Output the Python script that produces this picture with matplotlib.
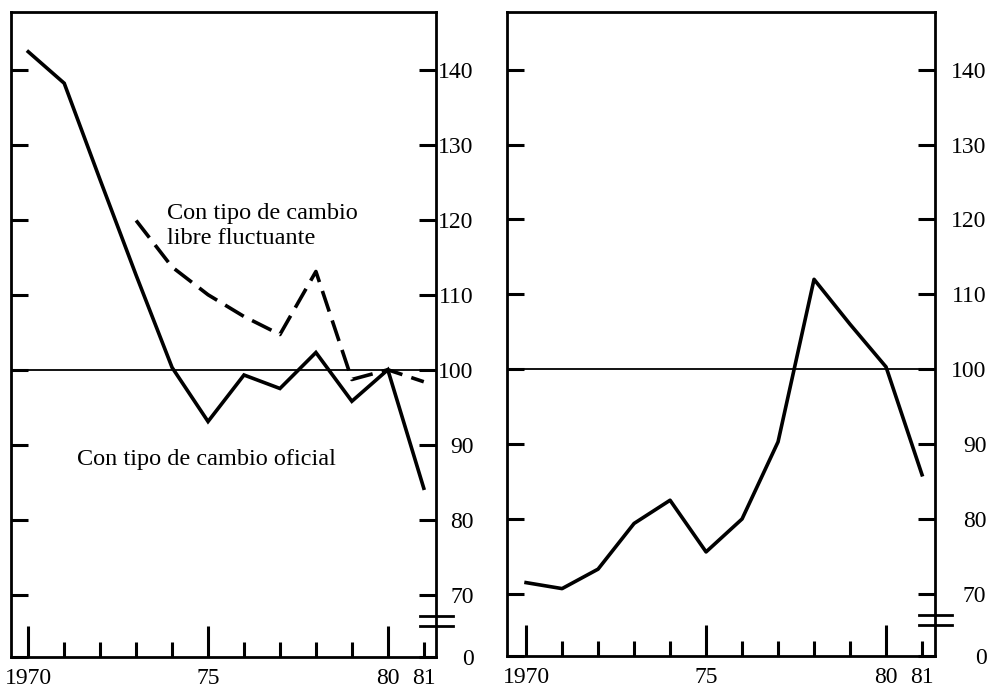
import numpy as np
import matplotlib.pyplot as plt

# datos
anios = list(range(1970, 1982))
oficial = [142.4, 138.2, 125.3, 112.6, 100.3, 93.1, 99.3, 97.5, 102.3, 95.8, 100.0, 84.2]
anios_libre = list(range(1973, 1982))
libre = [119.9, 113.7, 110.0, 107.1, 104.7, 113.1, 98.7, 100.0, 98.4]
derecha = [71.5, 70.7, 73.3, 79.4, 82.5, 75.6, 80.0, 90.3, 112.0, 106.0, 100.3, 85.9]

ytick_vals = [70, 80, 90, 100, 110, 120, 130, 140]
y_base = 61.7  # se rotula "0" (eje cortado)
anios_mayores = [1970, 1975, 1980]
etiquetas_mayores = ["1970", "75", "80"]

plt.rcParams['font.family'] = ['Liberation Serif', 'DejaVu Serif']

fig = plt.figure(figsize=(9.92, 6.91), dpi=100)
ax1 = fig.add_axes([11 / 992, 34 / 691, 425 / 992, 645 / 691])
ax2 = fig.add_axes([507 / 992, 35 / 691, 428 / 992, 644 / 691])


def preparar_eje(ax, pad_derecha):
    ax.set_ylim(y_base, 147.7)
    ax.set_xlim(1969.52, 1981.34)
    for s in ax.spines.values():
        s.set_linewidth(2.0)
    ax.axhline(100, color='black', lw=1.3, zorder=1)

    ax.set_yticks([y_base] + ytick_vals, labels=["0"] + [str(v) for v in ytick_vals])
    ax.tick_params(axis='y', which='major', direction='in', left=True, right=True,
                   labelleft=False, labelright=True, length=12, width=2.2,
                   labelsize=17, pad=pad_derecha)
    for lab in ax.get_yticklabels():
        lab.set_horizontalalignment('right')

    ax.set_xticks(anios_mayores, labels=etiquetas_mayores)
    menores = [a for a in anios if a not in anios_mayores]
    ax.set_xticks(menores, labels=["81" if a == 1981 else "" for a in menores], minor=True)
    ax.tick_params(axis='x', which='major', direction='in', length=22, width=2.2,
                   labelsize=17, pad=8)
    ax.tick_params(axis='x', which='minor', direction='in', length=11, width=2.2,
                   labelsize=17, pad=8)

    # marcas de corte del eje
    tr = ax.get_yaxis_transform()
    for yy in (67.2, 65.9):
        ax.plot([0.962, 1.04], [yy, yy], color='black', lw=2.0, transform=tr, clip_on=False)


preparar_eje(ax1, 27)
preparar_eje(ax2, 37)
ax2.set_xlim(1969.47, 1981.36)

# panel izquierdo
ax1.plot(anios, oficial, color='black', lw=2.6, solid_joinstyle='miter', zorder=3)
ax1.plot(anios_libre, libre, color='black', lw=2.6, linestyle=(0, (6, 2.6)), zorder=3)
ax1.text(1973.86, 122.2, "Con tipo de cambio\nlibre fluctuante", fontsize=17.5,
         ha='left', va='top', linespacing=1.25)
ax1.text(1971.36, 89.4, "Con tipo de cambio oficial", fontsize=17.5, ha='left', va='top')

# panel derecho
ax2.plot(anios, derecha, color='black', lw=2.6, zorder=3)

fig.savefig("out.png", dpi=100)
